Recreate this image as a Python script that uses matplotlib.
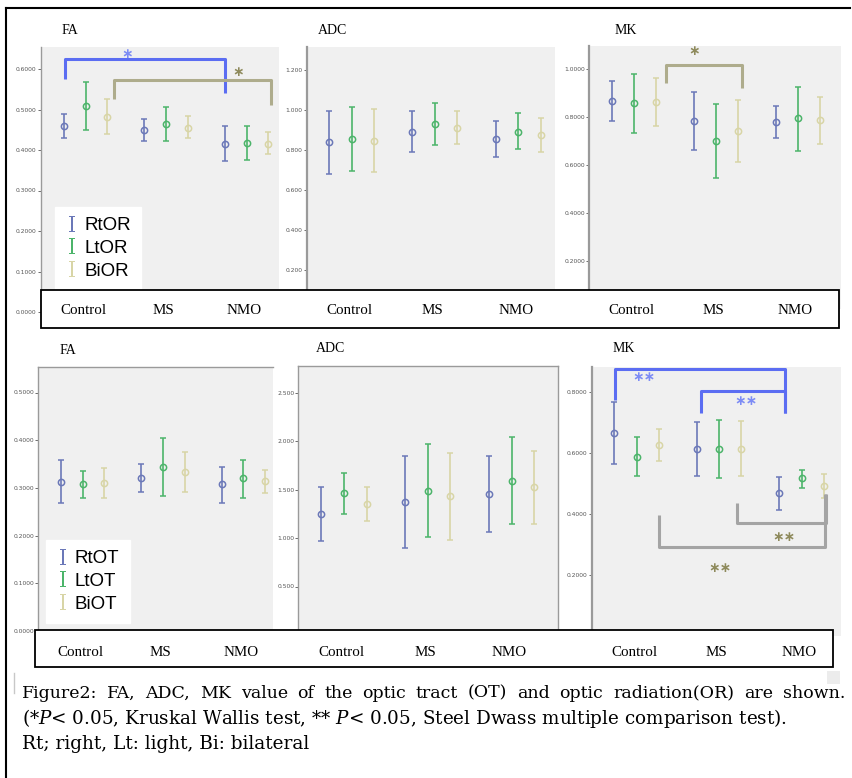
"""
Recreate Figure 2: FA / ADC / MK of optic radiation (top) and optic tract (bottom)
"""

import numpy as np
import matplotlib
matplotlib.use("Agg")
import matplotlib.pyplot as plt
from matplotlib.patches import Rectangle
from matplotlib.lines import Line2D
from matplotlib.transforms import blended_transform_factory

W, H = 852, 778

groups = ["Control", "MS", "NMO"]
or_names = ["RtOR", "LtOR", "BiOR"]
ot_names = ["RtOT", "LtOT", "BiOT"]

# optic radiation (rows: Rt, Lt, Bi ; cols: Control, MS, NMO)
or_fa_mean = [[0.459, 0.449, 0.416], [0.509, 0.464, 0.418], [0.482, 0.455, 0.416]]
or_fa_hi = [[0.488, 0.476, 0.460], [0.569, 0.505, 0.460], [0.527, 0.484, 0.445]]
or_fa_lo = [[0.429, 0.421, 0.372], [0.449, 0.423, 0.375], [0.439, 0.429, 0.389]]

or_adc_mean = [[0.840, 0.893, 0.858], [0.858, 0.933, 0.893], [0.848, 0.912, 0.877]]
or_adc_hi = [[0.998, 0.998, 0.948], [1.018, 1.038, 0.985], [1.007, 0.997, 0.960]]
or_adc_lo = [[0.682, 0.790, 0.768], [0.698, 0.827, 0.805], [0.690, 0.830, 0.793]]

or_mk_mean = [[0.868, 0.782, 0.778], [0.857, 0.700, 0.795], [0.864, 0.742, 0.788]]
or_mk_hi = [[0.951, 0.905, 0.846], [0.979, 0.853, 0.926], [0.964, 0.871, 0.882]]
or_mk_lo = [[0.783, 0.663, 0.714], [0.735, 0.545, 0.660], [0.763, 0.611, 0.688]]

# optic tract
ot_fa_mean = [[0.313, 0.321, 0.308], [0.308, 0.344, 0.320], [0.310, 0.334, 0.315]]
ot_fa_hi = [[0.358, 0.350, 0.344], [0.336, 0.405, 0.358], [0.341, 0.375, 0.338]]
ot_fa_lo = [[0.268, 0.291, 0.269], [0.278, 0.284, 0.279], [0.279, 0.291, 0.289]]

ot_adc_mean = [[1.247, 1.374, 1.454], [1.461, 1.488, 1.591], [1.351, 1.433, 1.523]]
ot_adc_hi = [[1.529, 1.849, 1.845], [1.673, 1.969, 2.038], [1.529, 1.879, 1.900]]
ot_adc_lo = [[0.969, 0.894, 1.062], [1.244, 1.007, 1.141], [1.175, 0.979, 1.141]]

ot_mk_mean = [[0.665, 0.613, 0.468], [0.588, 0.613, 0.517], [0.626, 0.613, 0.493]]
ot_mk_hi = [[0.766, 0.703, 0.522], [0.653, 0.708, 0.544], [0.679, 0.705, 0.531]]
ot_mk_lo = [[0.564, 0.525, 0.413], [0.525, 0.518, 0.486], [0.574, 0.525, 0.451]]

# significance brackets: x_left, x_right, y_left_end, y_bar, y_right_end, label_x, label_y, label, kind
or_fa_brackets = [(-0.26, 1.73, 0.575, 0.624, 0.541, 0.51, 0.637, "∗", "blue"),
                  (0.355, 2.30, 0.527, 0.573, 0.510, 1.89, 0.593, "∗", "olive")]
or_mk_brackets = [(0.384, 1.32, 0.943, 1.017, 0.920, 0.73, 1.076, "∗", "olive")]
ot_mk_brackets = [(-0.26, 1.80, 0.774, 0.874, 0.730, 0.09, 0.850, "∗∗", "blue"),
                  (0.776, 1.80, 0.730, 0.804, 0.730, 1.325, 0.770, "∗∗", "blue"),
                  (1.22, 2.295, 0.435, 0.370, 0.465, 1.79, 0.324, "∗∗", "gray"),
                  (0.27, 2.283, 0.397, 0.293, 0.465, 1.01, 0.222, "∗∗", "gray")]

colors = ["#6b78b8", "#4cb46a", "#d8d5a6"]
bracket_line = {"blue": "#5b6df2", "olive": "#aeac8c", "gray": "#a4a4a4"}
bracket_text = {"blue": "#7d8cf5", "olive": "#8e8a5c", "gray": "#8e8a5c"}
serif = ["Liberation Serif", "DejaVu Serif"]
cap_serif = ["DejaVu Serif"]

plt.rcParams["mathtext.fontset"] = "dejavuserif"

fig = plt.figure(figsize=(W / 100, H / 100), dpi=100)


def px_axes(x0, y0, x1, y1):
    return fig.add_axes([x0 / W, 1 - y1 / H, (x1 - x0) / W, (y1 - y0) / H])


def draw_panel(rect, c0, sp, ylim, ticks, fmt, mean, lo, hi, spines=("left",)):
    x0, y0, x1, y1 = rect
    ax = px_axes(x0, y0, x1, y1)
    ax.set_facecolor("#f0f0f0")
    offs = [-0.27, 0.0, 0.27]
    x = np.arange(len(groups))
    for k in range(3):
        m = np.array(mean[k])
        err = [m - np.array(lo[k]), np.array(hi[k]) - m]
        ax.errorbar(x + offs[k], m, yerr=err, fmt="o", color=colors[k], mfc="none",
                    ms=4.5, mew=1.1, elinewidth=1.2, capsize=2.5, capthick=1.1)
    ax.set_xlim((x0 - c0) / sp, (x1 - c0) / sp)
    ax.set_ylim(0, ylim)
    ax.set_yticks(ticks)
    ax.set_yticklabels([fmt % t for t in ticks])
    ax.tick_params(axis="y", labelsize=4.3, length=2, width=0.6, colors="#555555", pad=1)
    ax.set_xticks([])
    for name, s in ax.spines.items():
        s.set_color("#9a9a9a")
        s.set_linewidth(1.0)
        s.set_visible(name in spines)
    if spines == ("left",):
        ax.spines["left"].set_linewidth(1.6)
    return ax


def add_brackets(ax, brackets):
    for xl, xr, yl, yb, yr, tx, ty, lab, kind in brackets:
        ax.plot([xl, xl, xr, xr], [yl, yb, yb, yr], color=bracket_line[kind], lw=2.2,
                solid_joinstyle="round", solid_capstyle="butt", clip_on=False, zorder=4)
        ax.text(tx, ty, lab, color=bracket_text[kind], fontsize=10, ha="center",
                va="center", fontweight="bold", zorder=5)


def add_legend(ax, names, anchor):
    hs = [Line2D([], [], ls="none", marker=r"$\mathrm{I}$", color=c, markersize=11,
                 markeredgewidth=0) for c in colors]
    leg = ax.legend(hs, names, loc="lower left", bbox_to_anchor=anchor,
                    prop={"family": "Liberation Sans", "size": 13.5},
                    frameon=True, fancybox=False, handlelength=0.7, handletextpad=0.3,
                    labelspacing=0.3, borderpad=0.55, borderaxespad=0)
    leg.get_frame().set_facecolor("white")
    leg.get_frame().set_edgecolor("white")
    leg.get_frame().set_alpha(1)
    leg.set_zorder(10)


def label_box(ax_list, box, ylab):
    x0, y0, x1, y1 = box
    fig.add_artist(Rectangle((x0 / W, 1 - y1 / H), (x1 - x0) / W, (y1 - y0) / H,
                             transform=fig.transFigure, facecolor="white",
                             edgecolor="black", lw=1.3, zorder=5))
    for ax in ax_list:
        tr = blended_transform_factory(ax.transData, fig.transFigure)
        for i, g in enumerate(groups):
            fig.text(i - 0.03, 1 - ylab / H, g, transform=tr, ha="center", va="center",
                     family=serif, fontsize=10.8, zorder=6)


# top row: optic radiation
ax1 = draw_panel((40.7, 47, 279, 312), 85.7, 80.5, (312 - 47) / 405.0,
                 np.arange(0, 0.61, 0.1), "%.4f", or_fa_mean, or_fa_lo, or_fa_hi)
ax1.spines["left"].set_linewidth(1.0)
ax2 = draw_panel((306.7, 46.7, 555, 310.3), 351.7, 83.2, (310.3 - 46.7) / 200.0,
                 np.arange(0.2, 1.21, 0.2), "%.3f", or_adc_mean, or_adc_lo, or_adc_hi)
ax3 = draw_panel((589.3, 46, 840.7, 309), 634.3, 81.7, (309 - 46) / 240.0,
                 np.arange(0.2, 1.01, 0.2), "%.4f", or_mk_mean, or_mk_lo, or_mk_hi)
add_brackets(ax1, or_fa_brackets)
add_brackets(ax3, or_mk_brackets)
add_legend(ax1, or_names, ((55 - 40.7) / 238.3, (312 - 290) / 265.0))

# bottom row: optic tract
ax4 = draw_panel((38.3, 366.7, 272.7, 631), 82.7, 80.3, (631 - 366.7) / 477.0,
                 np.arange(0, 0.51, 0.1), "%.4f", ot_fa_mean, ot_fa_lo, ot_fa_hi,
                 spines=("left", "top"))
ax5 = draw_panel((298.3, 366, 558.3, 635), 344, 83.85, (635 - 366) / 97.0,
                 np.arange(0.5, 2.51, 0.5), "%.3f", ot_adc_mean, ot_adc_lo, ot_adc_hi,
                 spines=("left", "top", "right"))
ax6 = draw_panel((591.7, 366.7, 840.7, 636), 636.7, 82.5, (636 - 366.7) / 305.0,
                 np.arange(0.2, 0.81, 0.2), "%.4f", ot_mk_mean, ot_mk_lo, ot_mk_hi)
add_brackets(ax6, ot_mk_brackets)
add_legend(ax4, ot_names, ((45.7 - 38.3) / 234.4, (631 - 623) / 264.3))

label_box([ax1, ax2, ax3], (40.7, 290, 838.7, 328), 311)
label_box([ax4, ax5, ax6], (35, 630, 833, 667), 652)

# panel titles
for (tx, ty, s) in [(62, 31, "FA"), (318, 31, "ADC"), (615, 31, "MK"),
                    (60, 350, "FA"), (316, 348, "ADC"), (613, 348, "MK")]:
    fig.text(tx / W, 1 - ty / H, s, family=serif, fontsize=10, va="center", ha="left")

# outer frame
fig.add_artist(Line2D([6 / W, 6 / W], [0, 1 - 8 / H], color="black", lw=1.5))
fig.add_artist(Line2D([6 / W, 850 / W], [1 - 8 / H, 1 - 8 / H], color="black", lw=1.5))
fig.add_artist(Line2D([14 / W, 14 / W], [1 - 673 / H, 1 - 693 / H], color="#c8c8c8", lw=1))
fig.add_artist(Rectangle((827 / W, 1 - 684 / H), 13 / W, 13 / H, transform=fig.transFigure,
                         facecolor="#ececec", edgecolor="none"))

# caption, first line justified across the width
renderer = fig.canvas.get_renderer()
line1 = "Figure2: FA, ADC, MK value of the optic tract (OT) and optic radiation(OR) are shown."
words = line1.split()
txts = [fig.text(0, 1 - 693 / H, w, family=cap_serif, fontsize=12.5, va="center") for w in words]
widths = [t.get_window_extent(renderer).width for t in txts]
gap = (845 - 22 - sum(widths)) / (len(words) - 1)
xpos = 22
for t, wd in zip(txts, widths):
    t.set_x(xpos / W)
    xpos += wd + gap

fig.text(22 / W, 1 - 719 / H,
         r"(*$P$< 0.05, Kruskal Wallis test, ** $P$< 0.05, Steel Dwass multiple comparison test).",
         family=cap_serif, fontsize=13.2, va="center")
fig.text(22 / W, 1 - 744 / H, "Rt; right, Lt: light, Bi: bilateral",
         family=cap_serif, fontsize=13.3, va="center")

fig.savefig("out.png", dpi=100)
